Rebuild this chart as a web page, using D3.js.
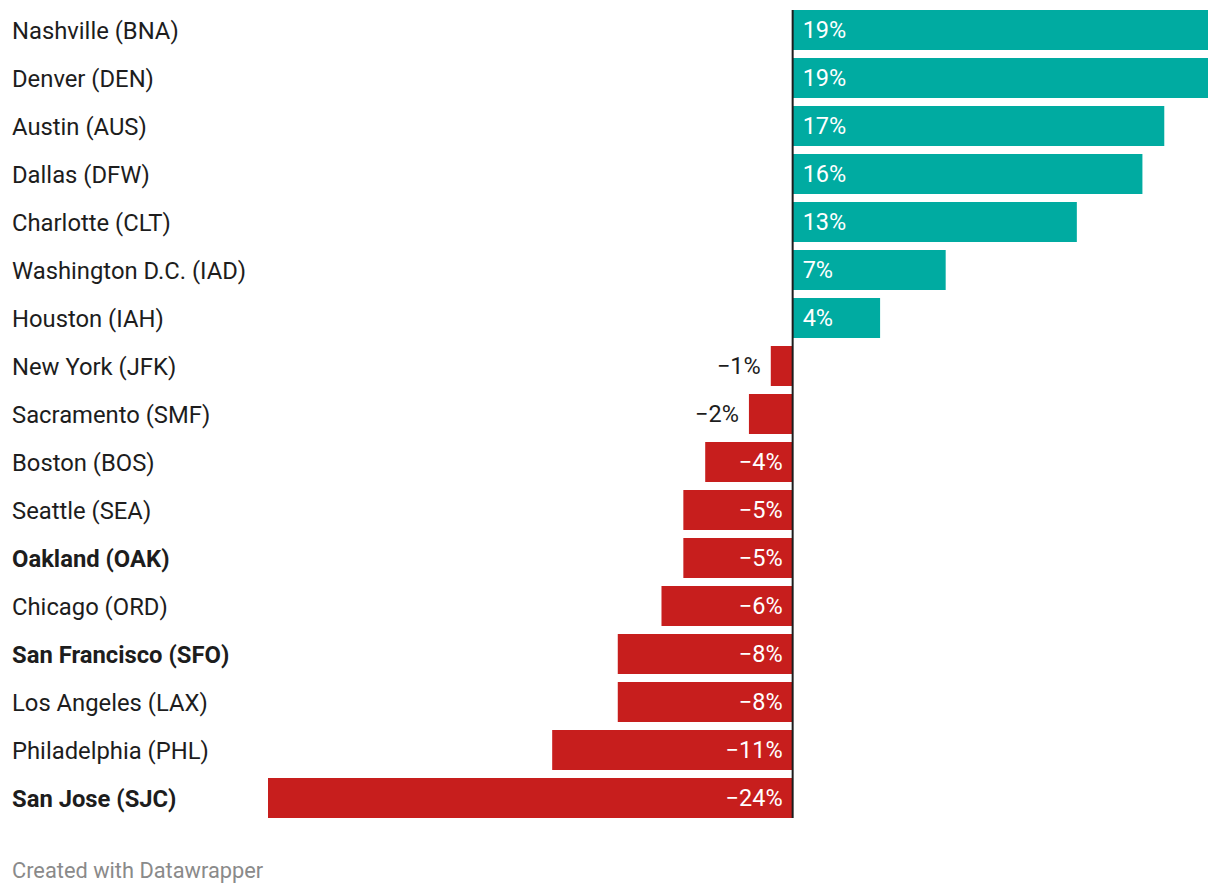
<!DOCTYPE html>
<html><head><meta charset="utf-8">
<script src="https://cdn.jsdelivr.net/npm/d3@7"></script>
<style>
body{margin:0;background:#fff;}
svg{display:block;font-family:Roboto,sans-serif;}
</style></head>
<body>
<svg id="chart" width="1220" height="894"></svg>
<script>
const airports = ["Nashville (BNA)","Denver (DEN)","Austin (AUS)","Dallas (DFW)","Charlotte (CLT)","Washington D.C. (IAD)","Houston (IAH)","New York (JFK)","Sacramento (SMF)","Boston (BOS)","Seattle (SEA)","Oakland (OAK)","Chicago (ORD)","San Francisco (SFO)","Los Angeles (LAX)","Philadelphia (PHL)","San Jose (SJC)"];
const changes = [19,19,17,16,13,7,4,-1,-2,-4,-5,-5,-6,-8,-8,-11,-24];
const boldAirports = ["Oakland (OAK)","San Francisco (SFO)","San Jose (SJC)"];

const svg = d3.select("#chart");
const x = d3.scaleLinear().domain([-24,19]).range([268,1208]);
const y = d3.scaleBand().domain(airports).range([10, 818]).paddingInner(8/48).paddingOuter(0);

const rows = svg.append("g").selectAll("g").data(airports).join("g");
rows.append("text")
  .attr("x", 12).attr("y", d=>y(d)+y.bandwidth()/2)
  .attr("dy","0.36em")
  .attr("font-size", 23.8)
  .attr("font-weight", d=>boldAirports.includes(d)?700:400)
  .attr("fill","#1d1d1d")
  .text(d=>d);

rows.append("rect")
  .attr("x",(d,i)=>Math.min(x(0),x(changes[i])))
  .attr("y",d=>y(d))
  .attr("width",(d,i)=>Math.abs(x(changes[i])-x(0)))
  .attr("height",y.bandwidth())
  .attr("fill",(d,i)=>changes[i]>=0?"#00aba1":"#c71e1d");

const fmt = v => (v<0?"\u2212":"")+Math.abs(v)+"%";
rows.append("text")
  .attr("y",d=>y(d)+y.bandwidth()/2)
  .attr("dy","0.36em")
  .attr("font-size",23.5)
  .each(function(d,i){
    const v = changes[i];
    const t = d3.select(this);
    const w = Math.abs(x(v)-x(0));
    if (v>=0){
      t.attr("x",x(0)+10).attr("text-anchor","start").attr("fill","#fff");
    } else if (w>60){
      t.attr("x",x(0)-10).attr("text-anchor","end").attr("fill","#fff");
    } else {
      t.attr("x",x(v)-10).attr("text-anchor","end").attr("fill","#1d1d1d");
    }
    t.text(fmt(v));
  });

svg.append("line")
  .attr("x1",x(0)).attr("x2",x(0))
  .attr("y1",10).attr("y2",y(airports[airports.length-1])+y.bandwidth())
  .attr("stroke","#1d1d1d").attr("stroke-width",2);

svg.append("text")
  .attr("x",12).attr("y",870).attr("dy","0.36em")
  .attr("font-size",21.8).attr("fill","#8a8a8a")
  .text("Created with Datawrapper");
</script>
</body></html>
